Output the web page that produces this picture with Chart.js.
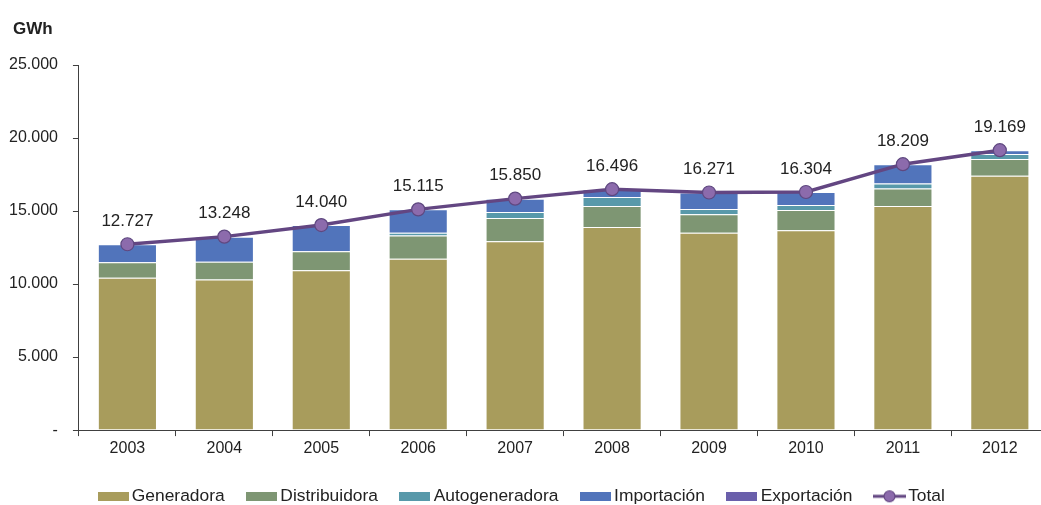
<!DOCTYPE html>
<html>
<head>
<meta charset="utf-8">
<script src="https://cdn.jsdelivr.net/npm/chart.js@4/dist/chart.umd.min.js"></script>
<style>
  html, body { margin: 0; padding: 0; background: #fff; overflow: hidden; }
  #wrap { width: 1056px; height: 505px; }
</style>
</head>
<body>
<div id="wrap"><canvas id="energyChart"></canvas></div>
<script>
// Energía disponible por origen (GWh)
const years = ['2003', '2004', '2005', '2006', '2007', '2008', '2009', '2010', '2011', '2012'];
const generadora     = [10430, 10310, 10950, 11730, 12930, 13910, 13520, 13680, 15350, 17420];
const distribuidora  = [1070, 1210, 1300, 1590, 1600, 1440, 1260, 1390, 1200, 1140];
const autogeneradora = [0, 0, 0, 200, 410, 610, 360, 350, 340, 340];
const importacion    = [1227, 1728, 1790, 1595, 910, 536, 1131, 884, 1319, 269];
const exportacion    = [0, 0, 0, 0, 0, 0, 0, 0, 0, 0];
const total          = [12727, 13248, 14040, 15115, 15850, 16496, 16271, 16304, 18209, 19169];

const FONT = "'Liberation Sans', Arial, sans-serif";
const TEXT = '#222222';
const AXIS = '#404040';
const LINE = '#634682';

const fmt = v => v === 0 ? '-' : v.toLocaleString('de-DE');

// legend swatches
function swatch(color) {
  const c = document.createElement('canvas');
  c.width = 31; c.height = 9;
  const g = c.getContext('2d');
  g.fillStyle = color;
  g.fillRect(0, 0, 31, 9);
  return c;
}
function lineSwatch() {
  const c = document.createElement('canvas');
  c.width = 33; c.height = 14;
  const g = c.getContext('2d');
  g.strokeStyle = LINE; g.lineWidth = 3;
  g.beginPath(); g.moveTo(0, 7); g.lineTo(33, 7); g.stroke();
  g.fillStyle = '#8c6bac'; g.lineWidth = 1.2;
  g.beginPath(); g.arc(16.5, 7, 5.5, 0, Math.PI * 2); g.fill(); g.stroke();
  return c;
}

function barSet(label, data, color) {
  return {
    type: 'bar', label, data,
    backgroundColor: color,
    borderColor: 'rgba(255,255,255,0.35)',
    borderWidth: data.some(v => v > 0) ? 1 : 0,
    barPercentage: 0.61,
    categoryPercentage: 1,
    order: 1,
    legendImg: swatch(color)
  };
}

// value labels above the total line
const totalLabels = {
  id: 'totalLabels',
  afterDatasetsDraw(chart) {
    const ctx = chart.ctx;
    const idx = chart.data.datasets.findIndex(d => d.type === 'line');
    const meta = chart.getDatasetMeta(idx);
    ctx.save();
    ctx.font = '17px ' + FONT;
    ctx.fillStyle = TEXT;
    ctx.textAlign = 'center';
    ctx.textBaseline = 'middle';
    meta.data.forEach((pt, i) => {
      ctx.fillText(fmt(chart.data.datasets[idx].data[i]), pt.x, pt.y - 23);
    });
    ctx.restore();
  }
};

// unit caption
const unitLabel = {
  id: 'unitLabel',
  afterDraw(chart) {
    const ctx = chart.ctx;
    ctx.save();
    ctx.font = 'bold 17px ' + FONT;
    ctx.fillStyle = TEXT;
    ctx.textBaseline = 'middle';
    ctx.fillText('GWh', 13, 29);
    ctx.restore();
  }
};

new Chart(document.getElementById('energyChart').getContext('2d'), {
  data: {
    labels: years,
    datasets: [
      barSet('Generadora', generadora, '#a89c5c'),
      barSet('Distribuidora', distribuidora, '#7e9673'),
      barSet('Autogeneradora', autogeneradora, '#5899aa'),
      barSet('Importación', importacion, '#5174bb'),
      barSet('Exportación', exportacion, '#6a5fab'),
      {
        type: 'line', label: 'Total', data: total,
        borderColor: LINE, borderWidth: 3.5,
        pointBackgroundColor: '#8c6bac', pointBorderColor: '#5f4880',
        pointBorderWidth: 1.2, pointRadius: 6.5,
        tension: 0, order: 0,
        legendImg: lineSwatch()
      }
    ]
  },
  options: {
    responsive: true,
    maintainAspectRatio: false,
    animation: false,
    layout: { padding: { top: 65, left: -6, right: 2, bottom: -10 } },
    scales: {
      x: {
        stacked: true,
        border: { display: true, color: AXIS, width: 1 },
        grid: { display: true, drawOnChartArea: false, drawTicks: true, tickLength: 6, color: AXIS, offset: true },
        ticks: { color: TEXT, font: { family: FONT, size: 16 }, padding: 3 },
        afterFit(scale) { scale.height = 30.5; }
      },
      y: {
        stacked: true,
        min: 0, max: 25000,
        border: { display: true, color: AXIS, width: 1 },
        grid: { display: true, drawOnChartArea: false, drawTicks: true, tickLength: 6, color: AXIS },
        ticks: { stepSize: 5000, color: TEXT, font: { family: FONT, size: 16 }, padding: 15, callback: v => fmt(v) }
      }
    },
    plugins: {
      legend: {
        position: 'bottom',
        labels: {
          usePointStyle: true,
          pointStyleWidth: 20,
          boxHeight: 9,
          padding: 27,
          color: TEXT,
          font: { family: FONT, size: 17.4 },
          sort: (a, b) => a.datasetIndex - b.datasetIndex,
          generateLabels(chart) {
            return chart.data.datasets.map((ds, i) => ({
              text: ds.label,
              datasetIndex: i,
              pointStyle: ds.legendImg,
              fillStyle: 'transparent',
              strokeStyle: 'transparent',
              lineWidth: 0,
              fontColor: TEXT,
              hidden: false
            }));
          }
        }
      },
      tooltip: { enabled: false }
    }
  },
  plugins: [totalLabels, unitLabel]
});
</script>
</body>
</html>
